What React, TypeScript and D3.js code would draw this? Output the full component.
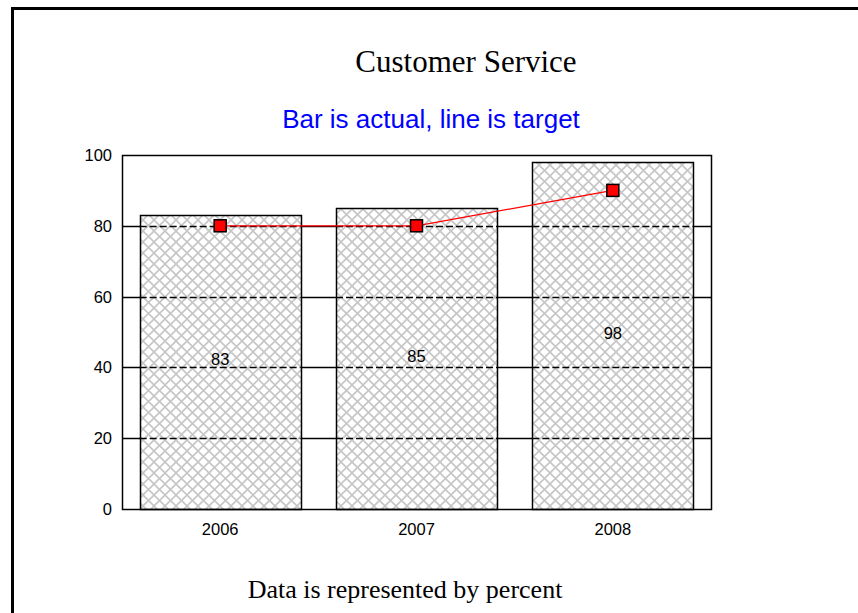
import React, { useEffect, useRef } from "react";
import * as d3 from "d3";

const years = ["2006", "2007", "2008"];
const actual = [83, 85, 98];
const target = [80, 80, 90];
const yTicks = [0, 20, 40, 60, 80, 100];

const App = () => {
  const svgRef = useRef<SVGSVGElement>(null);

  useEffect(() => {
    const svg = d3.select(svgRef.current);
    svg.selectAll("*").remove();

    const W = 858, H = 613;
    const plot = { left: 122, right: 711, top: 155, bottom: 509 };
    const sans = "Liberation Sans, Arial, sans-serif";
    const serif = "Liberation Serif, Times New Roman, serif";

    svg.attr("width", W).attr("height", H);

    // hatch pattern
    const P = 11;
    const defs = svg.append("defs");
    const pat = defs.append("pattern")
      .attr("id", "hatch")
      .attr("patternUnits", "userSpaceOnUse")
      .attr("width", P)
      .attr("height", P);
    pat.append("rect").attr("width", P).attr("height", P).attr("fill", "#fff");
    pat.append("path")
      .attr("d", `M0,0 L${P},${P} M${P},0 L0,${P}`)
      .attr("stroke", "#c6c6c6")
      .attr("stroke-width", 1.6);

    // outer frame
    svg.append("rect")
      .attr("x", 12.5).attr("y", 8.5)
      .attr("width", 900).attr("height", 700)
      .attr("fill", "#fff")
      .attr("stroke", "#000")
      .attr("stroke-width", 3);

    svg.append("text")
      .attr("x", 466).attr("y", 72)
      .attr("text-anchor", "middle")
      .attr("font-family", serif)
      .attr("font-size", 31)
      .text("Customer Service");

    svg.append("text")
      .attr("x", 431).attr("y", 128)
      .attr("text-anchor", "middle")
      .attr("font-family", sans)
      .attr("font-size", 26)
      .attr("fill", "#0000ff")
      .text("Bar is actual, line is target");

    svg.append("text")
      .attr("x", 405).attr("y", 598)
      .attr("text-anchor", "middle")
      .attr("font-family", serif)
      .attr("font-size", 26)
      .text("Data is represented by percent");

    const x = d3.scaleBand()
      .domain(years)
      .range([plot.left, plot.right])
      .paddingInner(0.18)
      .paddingOuter(0.09);

    const y = d3.scaleLinear()
      .domain([0, 100])
      .range([plot.bottom, plot.top]);

    const g = svg.append("g");
    const inner = yTicks.filter(t => t > 0 && t < 100);

    // solid gridlines
    g.selectAll(".grid")
      .data(inner)
      .enter().append("line")
      .attr("x1", plot.left).attr("x2", plot.right)
      .attr("y1", d => Math.round(y(d)) + 0.5)
      .attr("y2", d => Math.round(y(d)) + 0.5)
      .attr("stroke", "#000")
      .attr("stroke-width", 1.3);

    // bars
    g.selectAll(".bar")
      .data(actual)
      .enter().append("rect")
      .attr("x", (d, i) => Math.round(x(years[i])!) + 0.5)
      .attr("y", d => Math.round(y(d)) + 0.5)
      .attr("width", x.bandwidth())
      .attr("height", d => Math.round(y(0)) - Math.round(y(d)))
      .attr("fill", "url(#hatch)")
      .attr("stroke", "#000")
      .attr("stroke-width", 1.5);

    // dashed gridlines over bars
    inner.forEach(t => {
      actual.forEach((v, i) => {
        if (v > t) {
          g.append("line")
            .attr("x1", x(years[i])!).attr("x2", x(years[i])! + x.bandwidth())
            .attr("y1", Math.round(y(t)) + 0.5)
            .attr("y2", Math.round(y(t)) + 0.5)
            .attr("stroke", "#000")
            .attr("stroke-width", 1.3)
            .attr("stroke-dasharray", "7,3");
        }
      });
    });

    // plot frame
    g.append("rect")
      .attr("x", plot.left + 0.5).attr("y", plot.top + 0.5)
      .attr("width", plot.right - plot.left)
      .attr("height", plot.bottom - plot.top)
      .attr("fill", "none")
      .attr("stroke", "#000")
      .attr("stroke-width", 1.5);

    // value labels
    g.selectAll(".val")
      .data(actual)
      .enter().append("text")
      .attr("x", (d, i) => x(years[i])! + x.bandwidth() / 2)
      .attr("y", d => y(d / 2) + 3)
      .attr("text-anchor", "middle")
      .attr("font-family", sans)
      .attr("font-size", 16.5)
      .text(d => d);

    // y ticks
    g.selectAll(".ytick")
      .data(yTicks)
      .enter().append("text")
      .attr("x", 112)
      .attr("y", d => y(d) + 6)
      .attr("text-anchor", "end")
      .attr("font-family", sans)
      .attr("font-size", 16.5)
      .text(d => d);

    // x labels
    g.selectAll(".xtick")
      .data(years)
      .enter().append("text")
      .attr("x", d => x(d)! + x.bandwidth() / 2)
      .attr("y", 535)
      .attr("text-anchor", "middle")
      .attr("font-family", sans)
      .attr("font-size", 16.5)
      .text(d => d);

    // target line
    const line = d3.line<number>()
      .x((d, i) => x(years[i])! + x.bandwidth() / 2)
      .y(d => y(d));

    g.append("path")
      .datum(target)
      .attr("d", line)
      .attr("fill", "none")
      .attr("stroke", "#ff0000")
      .attr("stroke-width", 1.3);

    g.selectAll(".marker")
      .data(target)
      .enter().append("rect")
      .attr("x", (d, i) => x(years[i])! + x.bandwidth() / 2 - 6)
      .attr("y", d => y(d) - 6)
      .attr("width", 12)
      .attr("height", 12)
      .attr("fill", "#ff0000")
      .attr("stroke", "#000")
      .attr("stroke-width", 1.5);
  }, []);

  return <svg ref={svgRef} style={{ display: "block", position: "absolute", left: 0, top: 0 }}></svg>;
};

export default App;
